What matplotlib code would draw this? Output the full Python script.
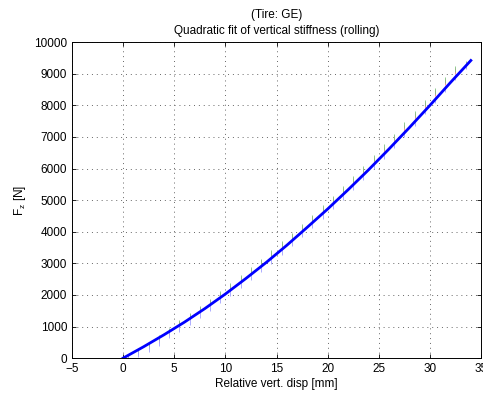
import matplotlib
matplotlib.use("Agg")
import matplotlib.pyplot as plt

plt.rcParams['font.family'] = ['Liberation Sans', 'DejaVu Sans']

# quadratic fit (disp in mm, force in N)
fit_x = [0, 2, 4, 6, 8, 10, 12, 14, 16, 18, 20, 22, 24, 26, 28, 30, 32, 34]
fit_f = [0, 360, 740, 1140, 1570, 2030, 2520, 3030, 3570, 4140, 4720, 5330, 5960, 6620, 7300, 8000, 8720, 9420]

# measured points (three passes), scattered close to the fit
meas_x = [0.5, 1.5, 2.5, 3.5, 4.5, 5.5, 6.5, 7.5, 8.5, 9.5, 10.5, 11.5, 12.5, 13.5, 14.5, 15.5,
          16.5, 17.5, 18.5, 19.5, 20.5, 21.5, 22.5, 23.5, 24.5, 25.5, 26.5, 27.5, 28.5, 29.5, 30.5,
          31.5, 32.5, 33.5]
red_f = [20, 200, 390, 590, 840, 1070, 1290, 1510, 1740, 1980, 2230, 2480, 2730, 3000, 3270, 3540,
         3820, 4100, 4390, 4680, 4990, 5290, 5610, 5930, 6260, 6600, 6940, 7290, 7650, 8010, 8380,
         8740, 9090, 9270]
green_f = [40, 230, 420, 630, 870, 1110, 1330, 1560, 1790, 2030, 2280, 2530, 2790, 3050, 3320, 3600,
           3880, 4160, 4450, 4750, 5050, 5360, 5680, 6000, 6330, 6670, 7010, 7370, 7720, 8080, 8450,
           8810, 9150, 9320]
cyan_f = [-30, 120, 290, 480, 720, 930, 1150, 1370, 1600, 1830, 2070, 2320, 2570, 2830, 3090, 3360,
          3640, 3920, 4210, 4500, 4800, 5110, 5420, 5740, 6070, 6400, 6740, 7090, 7450, 7810, 8170,
          8530, 8890, 9230]

fig = plt.figure(figsize=(4.83, 3.94), dpi=100)
ax = fig.add_axes([0.149, 0.091, 0.847, 0.802])

ax.plot(meas_x, red_f, '|', color='#ff8080', ms=4, mew=0.6)
ax.plot(meas_x, green_f, '|', color='#80c080', ms=4, mew=0.6)
ax.plot(meas_x, cyan_f, '|', color='#a0a0ff', ms=4, mew=0.6)
ax.plot(fit_x, fit_f, '-', color='#0000ff', lw=2)

ax.set_xlim(-5, 35)
ax.set_ylim(0, 10000)
ax.set_xticks(range(-5, 36, 5))
ax.set_yticks(range(0, 10001, 1000))
ax.grid(True, linestyle=(0, (1, 4)), color='#666666', linewidth=0.7)
ax.tick_params(direction='in', top=True, right=True, labelsize=8.5, length=3, width=0.6)
for s in ax.spines.values():
    s.set_linewidth(0.7)

ax.set_xlabel('Relative vert. disp [mm]', fontsize=8.5, labelpad=2)
ax.set_ylabel('F$_\\mathregular{z}$ [N]', fontsize=8.5, labelpad=4)
ax.set_title('(Tire: GE)\nQuadratic fit of vertical stiffness (rolling)', fontsize=8.5, pad=6,
             linespacing=1.45)

fig.savefig('out.png', dpi=100)
